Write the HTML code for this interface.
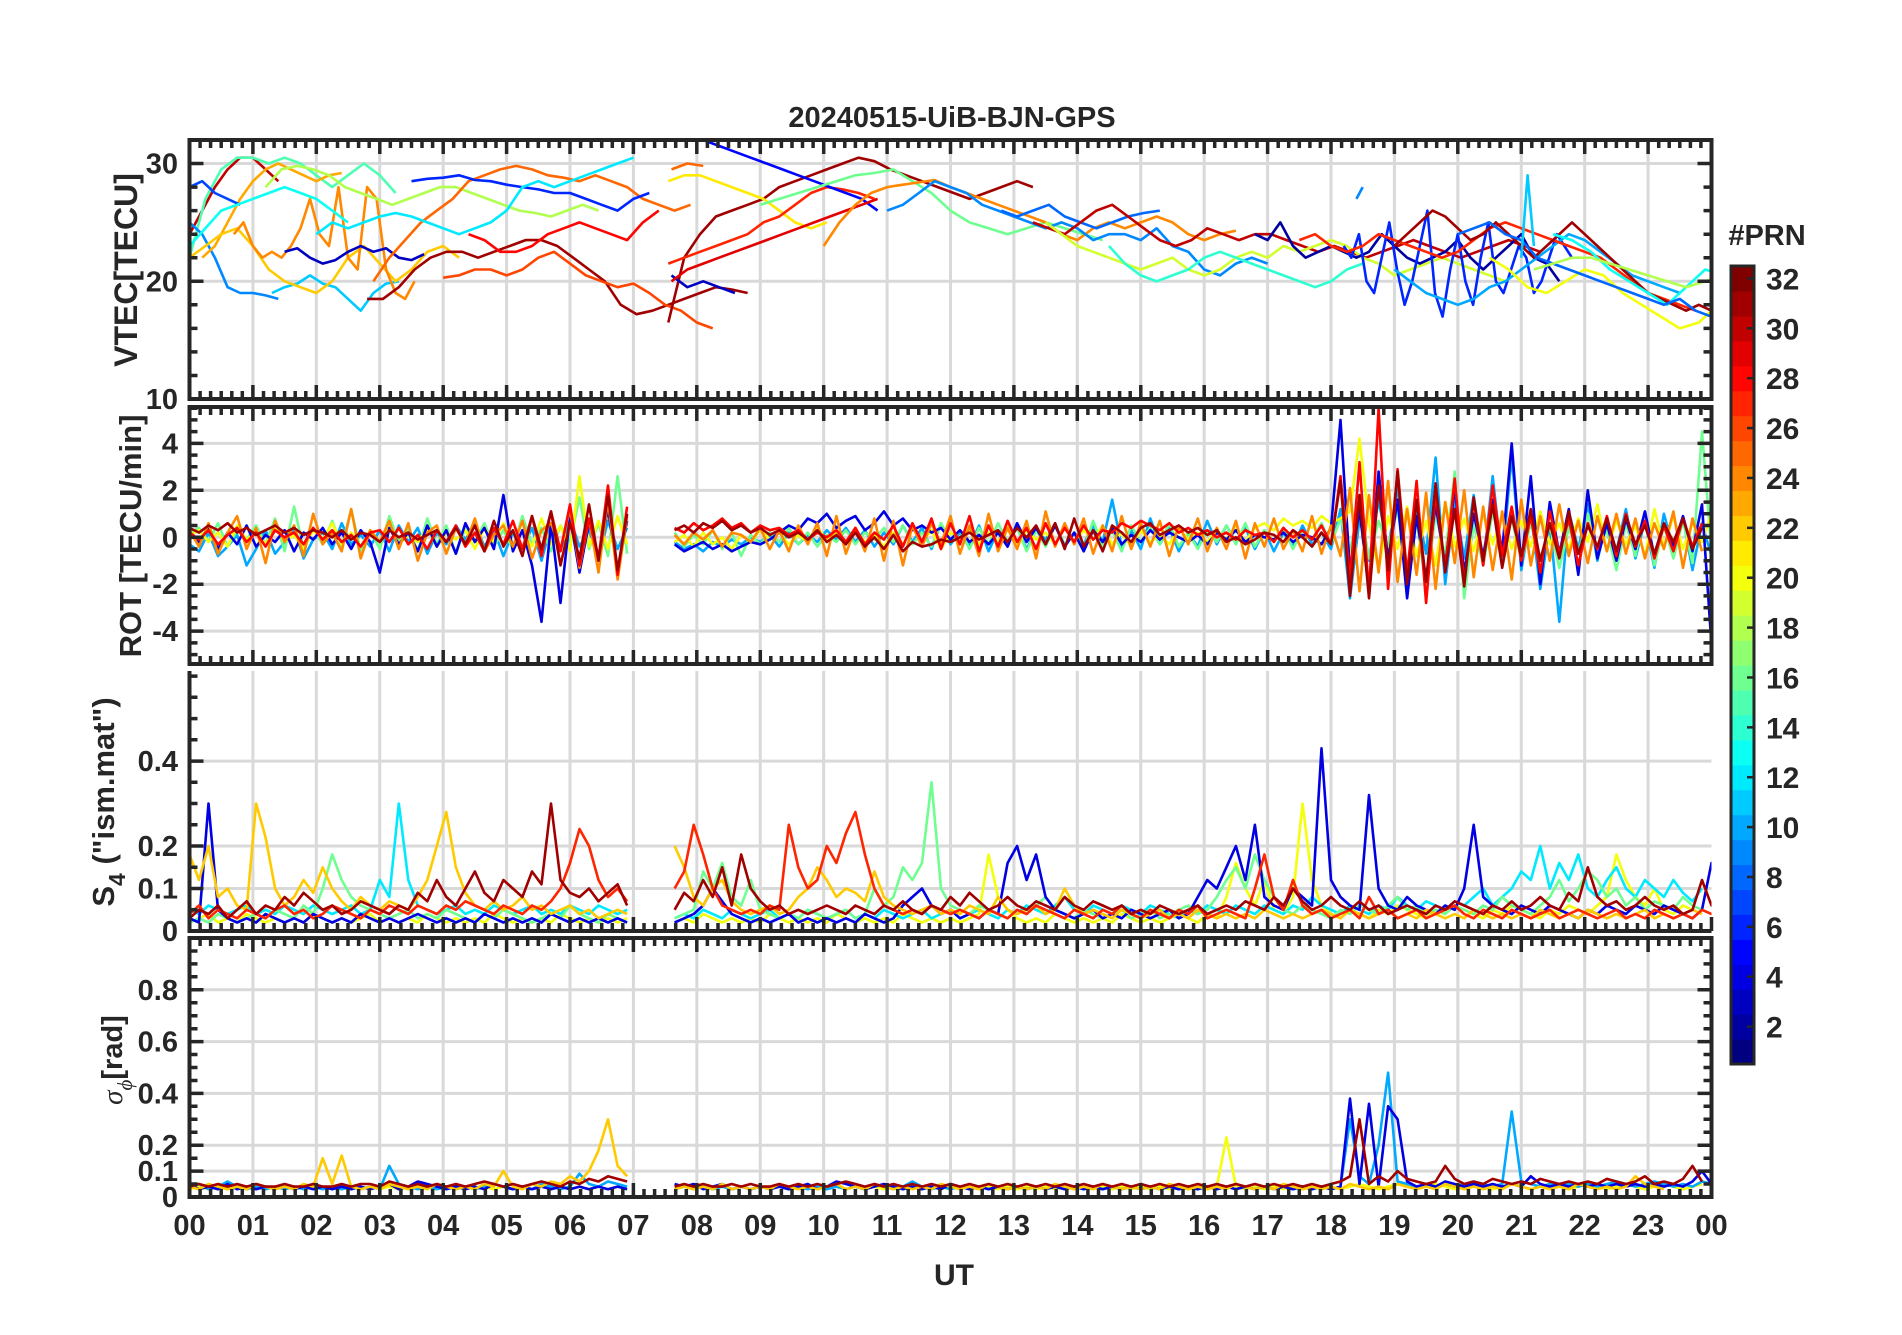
<!DOCTYPE html>
<html><head><meta charset="utf-8">
<style>
html,body{margin:0;padding:0;background:#fff;}
body{width:1902px;height:1330px;overflow:hidden;font-family:"Liberation Sans",Arial,sans-serif;}
svg text{font-family:"Liberation Sans",Arial,sans-serif;font-weight:bold;fill:#262626;}
</style></head>
<body>
<svg id="chart" width="1902" height="1330" viewBox="0 0 1902 1330" xmlns="http://www.w3.org/2000/svg">
<text x="952" y="127" font-size="29" text-anchor="middle">20240515-UiB-BJN-GPS</text>
<text x="954" y="1285" font-size="30" text-anchor="middle">UT</text>
<text transform="translate(137,270) rotate(-90)" font-size="32" text-anchor="middle">VTEC[TECU]</text>
<text transform="translate(141,536) rotate(-90)" font-size="31" text-anchor="middle">ROT [TECU/min]</text>
<text transform="translate(114,802) rotate(-90)" font-size="31" text-anchor="middle">S<tspan font-size="23" dy="11">4</tspan><tspan dy="-11"> ("ism.mat")</tspan></text>
<text transform="translate(122,1060) rotate(-90)" font-size="29" text-anchor="middle"><tspan font-family="Liberation Serif" font-style="italic" font-weight="normal">σ</tspan><tspan font-size="21" dy="10" font-family="Liberation Serif" font-style="italic" font-weight="normal">ϕ</tspan><tspan dy="-10">[rad]</tspan></text>
<text x="1767" y="245" font-size="29" text-anchor="middle">#PRN</text>
</svg>
<script>
// ---------- DATA ----------
const hourTicks = ["00","01","02","03","04","05","06","07","08","09","10","11","12","13","14","15","16","17","18","19","20","21","22","23","00"];
const prnTicks = [2,4,6,8,10,12,14,16,18,20,22,24,26,28,30,32];
const vtecTicks = [10,20,30];
const rotTicks = [-4,-2,0,2,4];
const s4Ticks = [0,0.1,0.2,0.4];
const sigTicks = [0,0.1,0.2,0.4,0.6,0.8];

// VTEC segments: [prn, startHour, stepHours, values]
const vtecSeries = [
 [30,0.0,0.2,[24,26,28,29.5,30.5,30.5,29.5,28.5]],
 [15,0.0,0.25,[22,27,29.5,30.5,30.5,30,30.5,30,29,28,29,30,29,27.5]],
 [9,0.0,0.2,[25,24,22,19.5,19,19,18.8,18.5]],
 [11,1.3,0.2,[19,19.5,19.8,20.5,19.8,19.5,18.5,17.5,19,19.8,20]],
 [23,0.2,0.2,[22,23,25,27,28.5,29.5,30,29.5,29,28.5,29,29.2]],
 [22,0.0,0.25,[22,23,24,24.5,23,21,20,19.5,19,20,22,23,21.5,20,21,22.5,23,22]],
 [24,0.7,0.15,[24,25,23,22,22.5,22,23,24.5,27,24,23,28,22,21,28,27,21,19,18.5,20]],
 [7,0.0,0.2,[28,28.5,27.5,27,26.5]],
 [3,1.5,0.2,[22.5,22.8,22,21.5,21.8,22.5,23,22.5,22.8,22,21.8,22.3]],
 [13,0.0,0.25,[23,24.5,26,26.5,27,27.5,28,27.5,27,26,25]],
 [31,2.8,0.25,[18.5,18.5,19.5,21,22,22.5,22.5,22,22.5,23,23.5,23.5,23,22,21,20,18,17.2,17.5,18,18.5,19,19.5,19.3,19]],
 [18,1.2,0.25,[28,29.5,29.8,29.5,29,28,27.5,27,26.5,27,27.5,28,28,27.5,27,26.5,26,25.8,25.5,26,26.5,26]],
 [25,2.9,0.25,[20,22,23.5,25,26,27,28.5,29,29.5,29.8,29.5,29,28.8,28.5,29,28.5,28,27,26.5,26,26.5]],
 [6,3.5,0.25,[28.5,28.7,28.8,29,28.6,28.5,28.2,28,27.8,27.5,27.5,27,26.5,26,27,27.5]],
 [12,2.0,0.25,[24,25,24.5,25,25.5,25.8,25.5,25,24.5,24,24.5,25,26,28,28.5,28,28.5,29,29.5,30,30.5]],
 [26,4.0,0.25,[20.3,20.5,21,21,20.5,21,22,22.5,21.5,20.5,20,19.5,19.8,19,18,17.5,16.5,16]],
 [28,4.4,0.25,[24,23.5,22.5,22.5,23,24,24.5,25,24.5,24,23.5,25,26]],
 [31,7.55,0.25,[16.5,22,24,25.5,26,26.5,27,28,28.5,29,29.5,30,30.5,30.2,29.5,29,28.5,28,27.5,27,27.5,28,28.5,28]],
 [25,7.6,0.25,[29.5,30,29.8]],
 [21,7.55,0.25,[28.5,29,29,28.5,28,27.5,27,26,25,24.5,25]],
 [27,7.55,0.25,[21.5,22,22.5,23,23.5,24,25,25.5,26.5,27.5,28,27.8,27.5,27]],
 [5,8.1,0.25,[32,31.5,31,30.5,30,29.5,29,28.5,28,27.5,27,26]],
 [3,7.6,0.25,[20.5,19.5,20,19.5,19]],
 [29,7.6,0.25,[20,21,21.5,22,22.5,23,23.5,24,24.5,25,25.5,26,26.5,27]],
 [16,9.0,0.3,[26.5,27,27.5,28,28.5,29,29.2,29.5,28.5,27.5,26,25,24.5,24,24.5,25,24.5,24,23.5]],
 [24,10.0,0.25,[23,25,26.5,27.5,28,28.2,28.4,28.6,28,27.5,27,26.5,26,25.5,25,24,23.5,24.5,25,24.5,25,25.5,25,24,23.5,24,24.3]],
 [9,11.0,0.25,[26,26.5,27.5,28.5,28,27.5,26.5,26,25.5,25,24.5,25,24.5,23.5,24,24,23.5,24.5,23,22.5,21,20.5,21.5,22,21.5]],
 [8,12.8,0.25,[26,25.5,26,26.5,25.5,25,24.5,25,25.5,25.8,26]],
 [30,13.3,0.25,[25,24.5,24,25,26,26.5,25.5,24.5,23.5,23,23.5,24.5,24,23.5,24,24,23.5,23,22.5,23,22.5,22,22.5,23,23.5,23,22.5,22,22.5,23,23.5,23,22.5]],
 [19,13.5,0.25,[25,24,23,22.5,22,21.5,21,21.5,22,21,20.5,21,22,22.5,22,23,22.5,23,23.5,23,22,21.5,20.5,21,21.5,22,21.5,21,20.5,20]],
 [14,14.5,0.25,[23,21.5,20.5,20,20.5,21,22,22.5,22,21.5,21,20.5,20,19.5,20,21,21.5]],
 [2,16.8,0.2,[24,23.5,25,23,22,22.5,23,22.5,22,22.5,24,23,22,21.5,22,22.5,23.5,22,21,22,23,24,22,21.5,20]],
 [6,18.2,0.12,[23,22,24,20,19,22,25,21,18,20,23,26,19,17,21,24,20,18,22,25,20,19,21,23,22,19,20,22,24,23,22]],
 [9,18.4,0.1,[27,28]],
 [10,19.0,0.25,[21,20,19,18.5,18,18.5,19.5,20,21,22,23,24,23.5,22.5,21.5,20.5,20,19.5,19]],
 [27,17.5,0.25,[23.5,24,23,22.5,23,24,23.5,23,22.5,22,22.5,23.5,24.5,25,24.5,24,23.5,23,22.5,22,21,20,19,18.5,18,17.5]],
 [31,19.0,0.2,[23,24,25,26,25.5,24.5,23.5,24,25,24,23,22,23,24,25,24,23,22,21,20,19,18.5,18,17.5,18,17.5,17,17.5,17,16.5,17,16.5,17,16,17,16.5,17,16.5,17,16.5,17]],
 [20,20.5,0.3,[22,21,19.5,19,20,21,20.5,19,18,17,16,16.5,18,19,18,17,18,19.5]],
 [13,21.5,0.3,[24,23.5,22.5,21,20,19,18,19.5,21,20.5,19,18,16.5,15]],
 [8,20.0,0.25,[24,24.5,25,24,23.5,22,21.5,21,20.5,20,19.5,19,18.5,18,18.5,17.5,17,16.5,16,15.5,16,15.5,15]],
 [11,21.0,0.1,[22,29,23]],
 [18,21.2,0.3,[21,21.5,22,22,21.5,21,20.5,20,19.5,20,20.5,20.5,21]]
];

// ROT, S4, sigma: 0.15 h step from 00 UT; null = data gap
const rotP24 = [0.3,-0.4,0.6,-0.7,0.2,0.9,-0.5,0.4,-1.1,0.7,-0.2,0.5,-0.8,1.0,-0.3,0.2,-0.6,1.2,-0.9,0.3,-0.2,0.7,-0.5,0.6,-1.0,0.2,0.5,-0.7,0.4,-0.3,0.8,-0.6,0.1,0.5,-0.4,0.7,-0.9,0.3,0.6,-0.5,1.2,-1.3,0.8,-1.5,1.6,-1.8,0.9,null,null,null,null,0.1,-0.3,0.2,-0.1,0.3,-0.4,0.2,0.1,-0.2,0.4,-0.5,0.3,-0.6,0.5,-0.3,0.6,-0.8,0.9,-0.7,0.4,-0.6,0.8,-1.0,0.7,-1.2,0.5,-0.4,0.6,-0.3,0.9,-0.7,0.5,-0.8,1.0,-0.6,0.4,-0.5,0.7,-0.9,1.1,-0.4,0.6,-0.3,0.8,-0.7,0.5,-0.6,0.9,-0.5,0.6,-0.4,0.7,-0.8,0.5,-0.3,0.8,-0.6,0.4,-0.5,0.7,-0.9,0.6,-0.4,0.8,-0.5,0.3,-0.6,0.9,-0.7,0.5,-0.8,2.1,-2.3,1.8,-1.5,2.4,-1.9,1.2,-1.6,1.9,-2.2,1.5,-1.1,2.0,-1.7,1.3,-1.4,1.1,-1.8,1.6,-1.2,0.9,-1.0,1.4,-0.8,0.7,-1.1,0.9,-0.6,1.0,-0.7,0.8,-0.9,0.6,-0.5,1.1,-1.3,0.8,-0.6];
const rotP31 = [0.4,0.2,0.5,0.3,0.6,0.2,0.4,0.1,0.3,0.5,0.2,0.4,0.1,0.3,0.2,0.0,0.3,-0.1,0.2,0.1,-0.2,0.3,0.0,0.2,-0.1,0.1,0.3,-0.2,0.4,-0.3,0.5,-0.6,0.7,-0.4,0.3,-0.8,0.9,-0.5,1.1,-1.2,0.6,-0.9,1.4,-1.0,1.8,-1.4,1.0,null,null,null,null,0.3,0.5,0.2,0.6,0.4,0.7,0.3,0.5,0.2,0.4,0.1,0.3,0.0,0.2,-0.1,0.3,-0.2,0.1,-0.3,0.2,-0.4,0.0,-0.5,0.1,-0.6,-0.2,-0.4,-0.3,-0.1,-0.2,0.0,0.2,-0.1,0.1,0.3,-0.2,0.4,0.0,0.5,-0.3,0.6,-0.5,0.8,-0.4,0.3,-0.6,0.5,0.2,-0.2,0.4,0.6,0.1,0.3,0.5,0.2,0.4,0.1,0.3,-0.2,0.0,-0.3,-0.1,0.2,0.1,-0.2,0.3,0.0,-0.4,0.2,-0.3,2.4,-2.5,1.8,-2.6,2.2,-1.4,2.8,-2.0,1.6,-1.9,2.3,-1.5,1.2,-2.1,1.7,-1.0,1.4,-1.3,0.9,-0.8,1.2,-1.0,0.6,-0.9,1.1,-0.7,0.5,-0.4,0.8,-0.6,0.9,-0.3,0.5,-0.7,0.6,-0.2,0.8,-0.5,0.4];
const rotP10 = [-0.3,-0.6,0.2,-0.8,-0.4,0.1,-1.2,-0.5,0.3,-0.7,-0.2,0.4,-0.9,-0.1,0.2,-0.5,0.6,-0.3,0.1,-0.4,0.3,-0.6,0.5,-0.2,0.4,-0.7,0.2,-0.3,0.5,-0.1,0.6,-0.4,0.3,-0.8,0.2,-0.5,0.4,-1.0,0.5,-0.6,0.8,-0.4,0.3,-0.9,0.7,-0.5,0.4,null,null,null,null,-0.2,-0.5,-0.3,-0.6,-0.2,-0.4,-0.1,-0.3,0.0,-0.2,0.1,-0.4,0.2,-0.3,0.1,-0.2,0.3,-0.1,0.4,-0.2,0.3,-0.4,0.2,-0.3,0.5,-0.2,0.4,-0.5,0.6,-0.3,0.2,-0.4,0.5,-0.6,0.3,-0.2,0.4,-0.5,0.3,-0.1,0.6,-0.4,0.2,-0.3,0.5,-0.2,1.6,-0.4,0.3,-0.5,0.8,-0.3,0.4,-0.6,0.2,-0.4,0.7,-0.3,0.5,-0.2,0.4,-0.5,0.3,-0.6,0.2,-0.4,0.5,-0.3,0.2,-0.5,1.2,-2.6,0.8,-1.0,1.6,-0.6,2.2,-1.8,1.3,-0.7,3.4,-2.0,1.5,-0.9,1.8,-1.2,2.6,-1.1,3.5,-1.4,1.0,-2.2,0.6,-3.6,1.1,-0.5,1.4,-1.0,0.8,-0.6,1.2,-0.9,0.7,-1.3,1.0,-0.5,0.8,-1.4,0.6,-0.8,1.2,-1.0];
const rotP4 = [0.1,-0.2,0.4,-0.5,0.2,-0.3,0.5,-0.4,0.1,-0.2,0.3,-0.6,0.2,-0.1,0.4,-0.3,0.2,-0.5,0.3,-0.2,-1.5,0.4,-0.3,0.2,-0.6,0.5,-0.4,0.3,-0.7,0.6,-0.2,0.4,-0.5,1.8,-0.6,0.3,-1.2,-3.6,0.6,-2.8,0.9,-1.5,0.6,-0.8,1.2,-1.4,0.7,null,null,null,null,-0.3,-0.6,-0.4,-0.2,-0.5,-0.3,-0.6,-0.4,-0.2,-0.3,-0.1,0.2,0.5,0.3,0.8,0.6,1.0,0.4,0.7,0.9,0.3,0.6,1.1,0.5,0.8,0.3,0.5,0.2,0.4,-0.1,0.3,-0.2,0.1,-0.3,0.2,-0.4,0.6,-0.2,0.4,-0.3,0.5,-0.4,0.2,-0.6,0.3,-0.2,0.4,-0.3,0.1,-0.2,0.3,-0.1,0.2,0.0,-0.2,0.1,-0.3,0.2,-0.1,0.3,-0.2,0.1,0.0,-0.1,0.2,-0.2,0.1,0.0,-0.3,0.4,5.0,-1.5,1.2,-2.3,2.8,-1.0,1.6,-2.6,0.9,-1.8,1.4,-1.2,2.1,-1.5,1.0,-0.8,1.6,-0.6,4.0,-1.2,2.6,-2.0,1.5,-0.7,1.2,-1.6,2.0,-0.9,0.6,-1.0,0.8,-0.5,1.1,-0.8,0.5,-0.4,0.9,-0.6,1.4,-4.6];
const rotP16 = [0.2,0.4,-0.2,0.6,-0.4,0.3,-0.1,0.5,-0.3,0.8,-0.6,1.3,-0.5,0.4,-0.3,0.7,-0.4,1.2,-0.6,0.3,-0.5,0.9,-0.2,0.4,-0.6,0.8,-0.3,0.5,-0.7,0.4,-0.2,0.6,-0.4,0.3,-0.5,0.9,-0.3,0.4,-0.6,0.5,-0.2,1.7,-0.5,0.6,-0.8,2.6,-0.7,null,null,null,null,0.2,-0.4,0.1,-0.3,0.3,-0.5,0.2,-0.8,0.1,-0.3,0.2,-0.2,0.4,-0.3,0.2,-0.4,0.1,-0.2,0.3,-0.3,0.2,-0.1,0.4,-0.2,0.5,-0.3,0.2,-0.4,0.6,-0.2,0.3,-0.5,0.4,-0.3,0.6,-0.2,0.4,-0.6,0.3,-0.4,0.5,-0.3,0.2,-0.5,0.7,-0.4,0.3,-0.6,0.5,-0.2,0.4,-0.3,0.6,-0.4,0.2,-0.5,0.3,-0.2,0.5,-0.3,0.6,-0.4,0.3,-0.2,0.4,-0.5,0.3,-0.1,0.6,-0.3,0.8,-0.6,1.5,-0.9,0.7,-0.4,1.2,-1.6,0.8,-2.2,1.0,-0.8,2.8,-2.6,0.6,-1.2,1.1,-0.5,0.8,-1.0,0.6,-0.9,0.5,-1.3,0.4,-0.7,1.0,-0.5,0.3,-1.4,0.6,-0.8,1.1,-1.2,0.5,-0.9,0.7,-1.1,4.5,-0.6];
const rotP20 = [0.1,0.3,-0.2,0.2,-0.4,0.5,-0.1,0.2,-0.3,0.4,-0.2,0.1,-0.5,0.3,-0.1,0.6,-0.3,0.2,-0.4,0.3,-0.2,0.5,-0.3,0.1,-0.2,0.4,-0.4,0.2,-0.1,0.3,-0.5,0.4,-0.2,0.6,-0.3,0.2,-0.4,0.8,-0.3,0.5,-0.6,2.6,-0.4,0.7,-0.5,0.9,-0.3,null,null,null,null,-0.2,0.1,-0.4,0.2,-0.3,0.0,-0.5,0.1,-0.2,0.3,-0.1,0.2,-0.3,0.1,-0.2,0.4,-0.1,0.2,-0.3,0.3,-0.2,0.1,-0.4,0.2,-0.3,0.4,-0.2,0.3,-0.5,0.2,-0.1,0.4,-0.3,0.2,-0.2,0.5,-0.4,0.3,-0.1,0.2,-0.3,0.4,-0.2,0.3,-0.1,0.5,-0.3,0.2,-0.4,0.3,-0.2,0.1,-0.3,0.4,-0.1,0.2,-0.2,0.3,-0.1,0.5,-0.2,0.4,0.6,0.3,0.8,0.5,0.7,0.4,0.9,0.6,0.8,1.1,4.2,0.6,-1.4,0.9,-0.5,1.3,-0.8,0.7,-1.2,1.5,-0.4,0.8,-0.6,1.0,-0.3,0.9,-0.5,0.7,-0.4,1.1,-0.3,0.6,-0.5,0.8,-0.2,1.4,-0.6,0.7,-0.3,0.5,-0.8,1.2,-0.4,0.9,-0.5,0.6,-0.2,1.0,-0.6];
const rotP28 = [0.2,-0.1,0.3,-0.3,0.1,0.4,-0.2,0.2,-0.4,0.3,0.0,0.2,-0.3,0.4,-0.1,0.3,-0.2,0.1,-0.4,0.2,0.3,-0.2,0.4,-0.3,0.1,-0.5,0.3,-0.2,0.5,-0.4,0.2,-0.6,0.4,-0.3,0.7,-0.5,0.9,-0.8,1.1,-0.6,1.4,-1.2,0.8,-0.9,2.2,-1.6,1.3,null,null,null,null,0.4,0.2,0.6,0.3,0.5,0.8,0.4,0.6,0.2,0.5,0.3,0.4,0.1,0.3,-0.1,0.2,0.0,0.3,-0.2,0.4,-0.3,0.2,-0.1,0.5,-0.4,0.6,-0.2,0.8,-0.5,0.6,-0.3,0.9,-0.6,0.5,-0.4,0.7,-0.2,0.4,-0.5,0.6,-0.3,0.4,-0.2,0.5,-0.1,0.3,0.2,0.6,0.4,0.7,0.5,0.3,0.6,0.2,0.4,0.1,0.3,0.0,0.2,-0.1,0.3,0.1,0.2,-0.2,0.4,0.0,0.3,-0.1,0.5,-0.3,2.6,-1.8,3.2,-2.4,5.5,-2.2,2.9,-1.6,2.4,-2.8,1.9,-1.4,2.5,-2.0,1.6,-1.2,2.2,-0.8,1.3,-1.0,0.9,-1.5,1.1,-0.7,0.8,-1.2,0.6,-0.5,0.9,-0.8,1.0,-0.4,0.7,-0.9,0.5,-0.6,0.8,-0.4,0.6];

const s4P22 = [0.18,0.12,0.2,0.08,0.1,0.06,0.05,0.3,0.22,0.1,0.06,0.08,0.12,0.09,0.15,0.1,0.07,0.05,0.08,0.06,0.05,0.07,0.06,0.05,0.08,0.12,0.2,0.28,0.15,0.09,0.06,0.05,0.07,0.05,0.06,0.08,0.05,0.06,0.04,0.05,0.06,0.04,0.05,0.03,0.04,0.05,0.04,null,null,null,null,0.2,0.15,0.08,0.06,0.1,0.12,0.07,0.05,0.04,0.05,0.06,0.04,0.05,0.08,0.1,0.15,0.12,0.08,0.1,0.09,0.07,0.14,0.08,0.06,0.05,0.04,0.05,0.06,0.04,0.05,0.04,0.06,0.05,0.04,0.08,0.05,0.04,0.05,0.06,0.04,0.05,0.1,0.06,0.04,0.05,0.04,0.03,0.05,0.04,0.03,0.04,0.05,0.03,0.04,0.03,0.05,0.04,0.03,0.04,0.03,0.04,0.03,0.05,0.04,0.03,0.04,0.03,0.04,0.05,0.04,0.03,0.05,0.04,0.03,0.04,0.05,0.03,0.04,0.03,0.05,0.04,0.03,0.04,0.03,0.05,0.04,0.03,0.04,0.03,0.04,0.03,0.05,0.04,0.03,0.04,0.03,0.05,0.04,0.03,0.04,0.03,0.04,0.05,0.03,0.04,0.03,0.04,0.05,0.04];
const s4P31 = [0.03,0.05,0.04,0.06,0.03,0.05,0.07,0.04,0.06,0.05,0.08,0.06,0.09,0.07,0.05,0.06,0.04,0.05,0.07,0.06,0.05,0.04,0.06,0.05,0.09,0.07,0.12,0.08,0.06,0.1,0.14,0.09,0.07,0.12,0.1,0.08,0.14,0.11,0.3,0.12,0.09,0.08,0.1,0.07,0.09,0.11,0.06,null,null,null,null,0.05,0.09,0.07,0.12,0.08,0.15,0.06,0.18,0.1,0.07,0.05,0.06,0.04,0.05,0.04,0.05,0.06,0.05,0.04,0.06,0.05,0.04,0.06,0.05,0.07,0.05,0.04,0.06,0.05,0.08,0.06,0.09,0.07,0.05,0.06,0.08,0.06,0.05,0.07,0.06,0.05,0.08,0.06,0.05,0.07,0.06,0.05,0.06,0.04,0.05,0.04,0.06,0.05,0.04,0.05,0.06,0.04,0.05,0.06,0.05,0.07,0.06,0.05,0.08,0.06,0.1,0.07,0.05,0.06,0.08,0.06,0.05,0.07,0.05,0.06,0.04,0.05,0.06,0.05,0.04,0.06,0.05,0.07,0.06,0.05,0.04,0.06,0.05,0.07,0.05,0.06,0.08,0.06,0.05,0.09,0.07,0.15,0.08,0.06,0.07,0.05,0.06,0.08,0.06,0.05,0.06,0.04,0.05,0.12,0.06,0.05];
const s4P27 = [0.04,0.06,0.03,0.05,0.04,0.03,0.05,0.04,0.03,0.05,0.06,0.04,0.05,0.03,0.04,0.06,0.05,0.04,0.03,0.05,0.04,0.06,0.05,0.04,0.06,0.05,0.04,0.06,0.05,0.07,0.06,0.05,0.04,0.06,0.05,0.04,0.06,0.05,0.07,0.1,0.16,0.24,0.2,0.12,0.08,0.1,0.07,null,null,null,null,0.1,0.14,0.25,0.18,0.1,0.06,0.05,0.04,0.05,0.04,0.06,0.05,0.25,0.15,0.1,0.12,0.2,0.16,0.23,0.28,0.18,0.1,0.06,0.05,0.04,0.05,0.04,0.06,0.05,0.04,0.05,0.04,0.03,0.05,0.04,0.03,0.05,0.04,0.06,0.05,0.04,0.03,0.05,0.04,0.03,0.05,0.04,0.06,0.04,0.03,0.05,0.04,0.03,0.05,0.04,0.06,0.03,0.04,0.05,0.04,0.03,0.1,0.18,0.08,0.05,0.12,0.06,0.04,0.05,0.03,0.04,0.05,0.03,0.08,0.04,0.05,0.03,0.04,0.05,0.03,0.04,0.05,0.06,0.04,0.03,0.05,0.04,0.03,0.05,0.04,0.03,0.04,0.05,0.03,0.04,0.05,0.04,0.03,0.04,0.05,0.03,0.04,0.03,0.05,0.04,0.03,0.04,0.03,0.05,0.04,0.03];
const s4P16 = [0.02,0.03,0.02,0.04,0.03,0.02,0.03,0.04,0.03,0.05,0.04,0.03,0.06,0.04,0.1,0.18,0.12,0.08,0.06,0.05,0.04,0.03,0.04,0.05,0.03,0.04,0.03,0.05,0.04,0.03,0.02,0.04,0.03,0.05,0.04,0.03,0.02,0.03,0.04,0.03,0.06,0.04,0.03,0.02,0.04,0.03,0.02,null,null,null,null,0.03,0.04,0.05,0.14,0.1,0.16,0.08,0.06,0.12,0.05,0.04,0.03,0.04,0.03,0.05,0.04,0.03,0.04,0.05,0.03,0.04,0.1,0.06,0.08,0.15,0.12,0.16,0.35,0.1,0.06,0.05,0.04,0.06,0.05,0.04,0.03,0.05,0.04,0.06,0.08,0.05,0.04,0.03,0.05,0.04,0.03,0.04,0.05,0.03,0.04,0.05,0.03,0.04,0.05,0.06,0.04,0.05,0.08,0.12,0.15,0.1,0.18,0.12,0.08,0.05,0.04,0.06,0.05,0.04,0.03,0.05,0.04,0.06,0.05,0.04,0.06,0.08,0.05,0.06,0.04,0.05,0.04,0.06,0.05,0.04,0.06,0.05,0.08,0.06,0.05,0.04,0.06,0.08,0.12,0.07,0.1,0.14,0.12,0.08,0.1,0.06,0.08,0.05,0.07,0.06,0.05,0.08,0.06,0.05];
const s4P4 = [0.03,0.02,0.3,0.05,0.03,0.02,0.03,0.02,0.04,0.03,0.02,0.03,0.02,0.04,0.03,0.02,0.03,0.02,0.04,0.03,0.02,0.03,0.02,0.03,0.04,0.03,0.02,0.03,0.02,0.03,0.02,0.04,0.03,0.02,0.03,0.02,0.03,0.02,0.04,0.03,0.02,0.03,0.02,0.03,0.02,0.03,0.02,null,null,null,null,0.02,0.03,0.04,0.06,0.1,0.07,0.04,0.03,0.02,0.03,0.02,0.03,0.04,0.02,0.03,0.02,0.03,0.02,0.03,0.02,0.04,0.03,0.02,0.03,0.06,0.08,0.1,0.06,0.04,0.05,0.03,0.04,0.03,0.05,0.04,0.16,0.2,0.12,0.18,0.08,0.05,0.04,0.03,0.04,0.05,0.03,0.04,0.03,0.05,0.04,0.03,0.04,0.05,0.03,0.04,0.08,0.12,0.1,0.15,0.2,0.12,0.25,0.08,0.06,0.05,0.1,0.08,0.06,0.43,0.12,0.08,0.06,0.05,0.32,0.1,0.06,0.05,0.08,0.06,0.05,0.04,0.06,0.05,0.1,0.25,0.08,0.06,0.05,0.04,0.06,0.05,0.04,0.06,0.05,0.04,0.03,0.05,0.04,0.06,0.05,0.04,0.06,0.05,0.04,0.06,0.05,0.04,0.03,0.05,0.16,0.08];
const s4P20 = [0.02,0.03,0.04,0.02,0.03,0.02,0.04,0.03,0.02,0.03,0.02,0.03,0.02,0.04,0.03,0.02,0.03,0.02,0.03,0.04,0.02,0.03,0.02,0.03,0.02,0.04,0.03,0.02,0.03,0.02,0.03,0.02,0.04,0.03,0.02,0.03,0.02,0.03,0.02,0.04,0.03,0.02,0.03,0.02,0.03,0.02,0.03,null,null,null,null,0.02,0.03,0.02,0.04,0.03,0.02,0.03,0.02,0.03,0.02,0.04,0.03,0.02,0.03,0.02,0.03,0.02,0.04,0.03,0.02,0.03,0.02,0.03,0.02,0.04,0.03,0.02,0.03,0.02,0.03,0.02,0.03,0.04,0.18,0.08,0.05,0.03,0.02,0.03,0.02,0.04,0.03,0.02,0.03,0.02,0.03,0.02,0.04,0.03,0.02,0.03,0.02,0.03,0.05,0.03,0.02,0.04,0.03,0.08,0.16,0.1,0.06,0.12,0.05,0.04,0.08,0.3,0.12,0.06,0.04,0.03,0.05,0.04,0.03,0.05,0.04,0.06,0.05,0.04,0.03,0.05,0.04,0.06,0.05,0.04,0.03,0.05,0.04,0.06,0.05,0.04,0.03,0.05,0.04,0.06,0.05,0.04,0.06,0.08,0.18,0.12,0.08,0.06,0.1,0.05,0.04,0.06,0.05];
const s4P12 = [0.05,0.04,0.06,0.05,0.04,0.05,0.06,0.04,0.05,0.04,0.06,0.05,0.04,0.06,0.05,0.04,0.05,0.06,0.04,0.05,0.12,0.08,0.3,0.12,0.06,0.05,0.04,0.05,0.06,0.04,0.05,0.04,0.06,0.05,0.04,0.05,0.06,0.04,0.05,0.04,0.06,0.05,0.04,0.06,0.05,0.04,0.05,null,null,null,null,0.03,0.04,0.03,0.05,0.04,0.03,0.05,0.04,0.03,0.04,0.05,0.03,0.04,0.03,0.05,0.04,0.03,0.04,0.05,0.03,0.04,0.03,0.05,0.04,0.03,0.04,0.05,0.03,0.04,0.05,0.03,0.04,0.05,0.04,0.03,0.05,0.04,0.06,0.05,0.04,0.06,0.08,0.05,0.04,0.06,0.05,0.04,0.06,0.05,0.04,0.06,0.05,0.04,0.03,0.05,0.04,0.06,0.05,0.04,0.06,0.05,0.04,0.06,0.05,0.04,0.06,0.05,0.08,0.06,0.05,0.04,0.06,0.05,0.04,0.06,0.05,0.08,0.06,0.05,0.07,0.06,0.05,0.07,0.06,0.08,0.1,0.06,0.08,0.1,0.14,0.12,0.2,0.1,0.16,0.12,0.18,0.1,0.08,0.12,0.15,0.1,0.08,0.12,0.1,0.08,0.12,0.09,0.07,0.1];

const sigP22 = [0.04,0.03,0.05,0.04,0.03,0.04,0.03,0.05,0.04,0.03,0.04,0.03,0.05,0.04,0.15,0.05,0.16,0.04,0.03,0.04,0.03,0.05,0.04,0.03,0.04,0.03,0.05,0.04,0.03,0.04,0.03,0.05,0.04,0.1,0.04,0.03,0.05,0.04,0.06,0.05,0.08,0.06,0.1,0.18,0.3,0.12,0.08,null,null,null,null,0.03,0.04,0.03,0.04,0.03,0.05,0.03,0.04,0.03,0.04,0.03,0.05,0.04,0.03,0.04,0.03,0.04,0.05,0.03,0.04,0.03,0.05,0.04,0.03,0.04,0.03,0.04,0.03,0.05,0.04,0.03,0.04,0.03,0.05,0.04,0.03,0.04,0.03,0.04,0.03,0.05,0.04,0.03,0.04,0.03,0.05,0.04,0.03,0.04,0.03,0.04,0.03,0.05,0.04,0.03,0.04,0.03,0.04,0.03,0.05,0.04,0.03,0.04,0.03,0.05,0.04,0.03,0.04,0.03,0.04,0.03,0.05,0.04,0.03,0.04,0.03,0.05,0.04,0.03,0.04,0.03,0.05,0.04,0.03,0.04,0.03,0.04,0.03,0.05,0.04,0.03,0.04,0.03,0.04,0.03,0.05,0.04,0.03,0.04,0.03,0.04,0.08,0.05,0.04,0.03];
const sigP31 = [0.04,0.05,0.04,0.05,0.04,0.05,0.04,0.05,0.04,0.04,0.05,0.04,0.04,0.05,0.04,0.04,0.05,0.04,0.05,0.05,0.04,0.06,0.05,0.04,0.05,0.04,0.05,0.04,0.05,0.04,0.05,0.06,0.05,0.04,0.05,0.04,0.05,0.06,0.05,0.04,0.06,0.05,0.07,0.06,0.08,0.07,0.06,null,null,null,null,0.04,0.05,0.04,0.05,0.04,0.04,0.05,0.04,0.05,0.04,0.04,0.05,0.04,0.05,0.04,0.05,0.04,0.05,0.06,0.05,0.04,0.05,0.04,0.05,0.04,0.05,0.04,0.05,0.04,0.05,0.04,0.05,0.04,0.05,0.04,0.05,0.04,0.05,0.04,0.05,0.04,0.05,0.04,0.05,0.04,0.05,0.04,0.05,0.04,0.05,0.04,0.05,0.04,0.05,0.04,0.05,0.04,0.05,0.04,0.05,0.04,0.05,0.04,0.05,0.04,0.05,0.04,0.05,0.04,0.05,0.06,0.08,0.3,0.05,0.08,0.06,0.1,0.07,0.06,0.05,0.06,0.12,0.07,0.05,0.06,0.05,0.07,0.06,0.05,0.06,0.05,0.07,0.06,0.05,0.06,0.05,0.06,0.05,0.07,0.06,0.05,0.06,0.08,0.05,0.06,0.05,0.07,0.12,0.06];
const sigP4 = [0.05,0.03,0.04,0.03,0.05,0.03,0.04,0.03,0.04,0.03,0.04,0.03,0.04,0.03,0.04,0.03,0.04,0.03,0.04,0.03,0.04,0.05,0.03,0.04,0.06,0.05,0.04,0.03,0.04,0.03,0.04,0.03,0.05,0.04,0.03,0.04,0.03,0.04,0.03,0.04,0.03,0.04,0.03,0.04,0.03,0.04,0.03,null,null,null,null,0.05,0.04,0.05,0.03,0.04,0.05,0.03,0.04,0.03,0.04,0.03,0.04,0.03,0.04,0.05,0.03,0.04,0.06,0.05,0.04,0.03,0.04,0.05,0.04,0.03,0.04,0.03,0.04,0.03,0.05,0.04,0.03,0.04,0.03,0.04,0.03,0.04,0.03,0.04,0.03,0.04,0.03,0.04,0.03,0.04,0.03,0.04,0.03,0.04,0.03,0.04,0.03,0.04,0.03,0.04,0.03,0.04,0.03,0.04,0.03,0.04,0.03,0.04,0.03,0.04,0.03,0.04,0.03,0.04,0.03,0.04,0.38,0.05,0.36,0.04,0.35,0.3,0.06,0.04,0.05,0.04,0.06,0.05,0.04,0.05,0.04,0.05,0.04,0.05,0.04,0.08,0.05,0.04,0.05,0.04,0.05,0.04,0.05,0.04,0.05,0.04,0.05,0.04,0.05,0.04,0.05,0.04,0.06,0.1,0.05];
const sigP10 = [0.04,0.05,0.03,0.04,0.06,0.04,0.03,0.04,0.03,0.04,0.03,0.04,0.03,0.04,0.03,0.04,0.03,0.04,0.03,0.04,0.03,0.12,0.05,0.04,0.03,0.04,0.03,0.04,0.03,0.04,0.03,0.04,0.05,0.04,0.03,0.04,0.03,0.05,0.04,0.03,0.04,0.09,0.05,0.04,0.06,0.05,0.04,null,null,null,null,0.03,0.04,0.03,0.04,0.03,0.04,0.03,0.04,0.03,0.04,0.03,0.04,0.03,0.04,0.03,0.04,0.03,0.04,0.03,0.04,0.03,0.05,0.04,0.03,0.04,0.06,0.04,0.03,0.04,0.03,0.04,0.03,0.04,0.03,0.04,0.03,0.04,0.03,0.04,0.03,0.04,0.03,0.04,0.03,0.04,0.03,0.04,0.03,0.04,0.03,0.04,0.03,0.04,0.03,0.04,0.03,0.04,0.03,0.04,0.03,0.04,0.03,0.04,0.03,0.04,0.03,0.04,0.03,0.04,0.03,0.04,0.3,0.08,0.05,0.2,0.48,0.06,0.05,0.04,0.05,0.04,0.05,0.04,0.05,0.06,0.05,0.04,0.05,0.33,0.06,0.05,0.04,0.05,0.04,0.05,0.04,0.05,0.04,0.05,0.06,0.05,0.04,0.05,0.06,0.05,0.04,0.05,0.04,0.06,0.05];
const sigP20 = [0.03,0.04,0.03,0.04,0.03,0.04,0.03,0.04,0.03,0.04,0.03,0.04,0.03,0.04,0.03,0.04,0.03,0.04,0.03,0.04,0.03,0.04,0.03,0.04,0.03,0.04,0.03,0.04,0.03,0.04,0.03,0.04,0.03,0.04,0.03,0.04,0.03,0.04,0.03,0.04,0.03,0.04,0.03,0.04,0.03,0.04,0.03,null,null,null,null,0.03,0.04,0.03,0.04,0.03,0.04,0.03,0.04,0.03,0.04,0.03,0.04,0.03,0.04,0.03,0.04,0.03,0.04,0.03,0.04,0.03,0.04,0.03,0.04,0.03,0.04,0.03,0.04,0.03,0.04,0.03,0.04,0.03,0.04,0.03,0.04,0.03,0.04,0.03,0.04,0.03,0.04,0.03,0.04,0.03,0.04,0.03,0.04,0.03,0.04,0.03,0.04,0.03,0.04,0.03,0.04,0.03,0.04,0.23,0.04,0.03,0.04,0.03,0.04,0.03,0.04,0.03,0.04,0.03,0.04,0.03,0.04,0.05,0.04,0.03,0.04,0.05,0.04,0.03,0.04,0.05,0.04,0.03,0.04,0.05,0.04,0.03,0.04,0.05,0.04,0.03,0.04,0.05,0.04,0.03,0.04,0.05,0.04,0.03,0.04,0.05,0.04,0.03,0.04,0.05,0.04,0.03,0.04,0.05];

const rotSeries = [[10,rotP10],[16,rotP16],[20,rotP20],[4,rotP4],[24,rotP24],[28,rotP28],[31,rotP31]];
const s4Series = [[20,s4P20],[12,s4P12],[16,s4P16],[4,s4P4],[22,s4P22],[27,s4P27],[31,s4P31]];
const sigSeries = [[20,sigP20],[10,sigP10],[4,sigP4],[22,sigP22],[31,sigP31]];
const sampleStep = 0.15;

// ---------- LAYOUT ----------
const NS = "http://www.w3.org/2000/svg";
const svg = document.getElementById('chart');
const X0 = 189.5, X1 = 1711.5;
function xOf(h){ return X0 + (X1 - X0) * h / 24; }
const panels = [
 {name:'vtec', top:140, bot:399, min:10, max:32, ticks:vtecTicks, minor:2, box:true},
 {name:'rot', top:407, bot:664, min:-5.4, max:5.55, ticks:rotTicks, minor:0.5, box:true},
 {name:'s4', top:671, bot:931, min:0, max:0.612, ticks:s4Ticks, minor:0.05, box:false},
 {name:'sigma', top:938, bot:1197, min:0, max:1.0, ticks:sigTicks, minor:0.05, box:true}
];
function yScale(p){ return v => p.bot - (v - p.min) / (p.max - p.min) * (p.bot - p.top); }

function jet(v){
  const t = (v - 1) / 31;
  const f = x => Math.max(0, Math.min(1, x));
  const r = f(1.5 - Math.abs(4*t - 3)), g = f(1.5 - Math.abs(4*t - 2)), b = f(1.5 - Math.abs(4*t - 1));
  return 'rgb(' + Math.round(r*255) + ',' + Math.round(g*255) + ',' + Math.round(b*255) + ')';
}
function el(tag, attrs, parent){
  const e = document.createElementNS(NS, tag);
  for (const k in attrs) e.setAttribute(k, attrs[k]);
  (parent || svg).appendChild(e);
  return e;
}

const defs = el('defs', {});
panels.forEach(p => {
  const cp = el('clipPath', {id: 'clip-' + p.name}, defs);
  el('rect', {x: X0, y: p.top, width: X1 - X0, height: p.bot - p.top}, cp);
});

function drawLine(g, p, pts, prn){
  const y = yScale(p);
  let d = '', pen = false;
  pts.forEach(([t, v]) => {
    if (v === null || v === undefined) { pen = false; return; }
    d += (pen ? 'L' : 'M') + xOf(t).toFixed(1) + ' ' + y(v).toFixed(1);
    pen = true;
  });
  const path = el('path', {d: d, fill: 'none', stroke: jet(prn), 'stroke-width': 2.6, 'stroke-linejoin': 'round'}, g);
  
  
}

panels.forEach((p, pi) => {
  const y = yScale(p);
  const g = el('g', {});
  
  
  for (let h = 1; h < 24; h++) {
    const gl = el('line', {x1: xOf(h), x2: xOf(h), y1: p.top, y2: p.bot, stroke: '#d9d9d9', 'stroke-width': 3}, g);
    
    
  }
  p.ticks.forEach(v => {
    const gl = el('line', {x1: X0, x2: X1, y1: y(v), y2: y(v), stroke: '#d9d9d9', 'stroke-width': 3}, g);
    
    
  });
  const dg = el('g', {'clip-path': 'url(#clip-' + p.name + ')'}, g);
  
  
  if (p.name === 'vtec') {
    vtecSeries.forEach(s => drawLine(dg, p, s[3].map((v, i) => [s[1] + i * s[2], v]), s[0]));
  } else {
    const src = p.name === 'rot' ? rotSeries : p.name === 's4' ? s4Series : sigSeries;
    src.forEach(s => drawLine(dg, p, s[1].map((v, i) => [i * sampleStep, v]), s[0]));
  }
  const fc = '#262626';
  const fr = el('path', {d: p.box
      ? `M${X0} ${p.top}H${X1}V${p.bot}H${X0}Z`
      : `M${X0} ${p.top}V${p.bot}H${X1}`,
      fill: 'none', stroke: fc, 'stroke-width': 4}, g);
  
  
  let td = '';
  for (let m = 0; m <= 144; m++) {
    const x = xOf(m / 6).toFixed(1), len = (m % 6 === 0) ? 14 : 8;
    td += `M${x} ${p.bot}v${-len}`;
    if (p.box) td += `M${x} ${p.top}v${len}`;
  }
  const start = Math.ceil(p.min / p.minor - 1e-6);
  for (let k = start; k * p.minor <= p.max + 1e-6; k++) {
    const v = k * p.minor, yy = y(v).toFixed(1);
    const major = p.ticks.some(t => Math.abs(t - v) < 1e-6);
    const len = major ? 14 : 8;
    td += `M${X0} ${yy}h${len}`;
    if (p.box) td += `M${X1} ${yy}h${-len}`;
  }
  const tk = el('path', {d: td, fill: 'none', stroke: fc, 'stroke-width': 3.5}, g);
  
  
  p.ticks.forEach(v => {
    const t = el('text', {x: 178, y: y(v) + 10, 'font-size': 29, 'text-anchor': 'end'}, g);
    t.textContent = String(v);
    
    
  });
});

hourTicks.forEach((lab, i) => {
  const t = el('text', {x: xOf(i), y: 1235, 'font-size': 29, 'text-anchor': 'middle'});
  t.textContent = lab;
  
  
});

const CB = {x: 1731, w: 23, top: 266, bot: 1064};
const cbG = el('g', {});


function cbY(v){ return CB.bot - (v - 0.5) / 32 * (CB.bot - CB.top); }
for (let k = 1; k <= 32; k++) {
  const r = el('rect', {x: CB.x, y: cbY(k + 0.5), width: CB.w, height: cbY(k - 0.5) - cbY(k + 0.5) + 0.6, fill: jet(k)}, cbG);
  
  
}
const cbf = el('rect', {x: CB.x, y: CB.top, width: CB.w, height: CB.bot - CB.top, fill: 'none', stroke: '#262626', 'stroke-width': 3}, cbG);


prnTicks.forEach(v => {
  const yy = cbY(v);
  const tl = el('line', {x1: CB.x + CB.w - 7, x2: CB.x + CB.w, y1: yy, y2: yy, stroke: '#262626', 'stroke-width': 2.5}, cbG);
  
  
  const t = el('text', {x: 1766, y: yy + 11, 'font-size': 30}, cbG);
  t.textContent = String(v);
  
  
});
</script>
</body></html>
